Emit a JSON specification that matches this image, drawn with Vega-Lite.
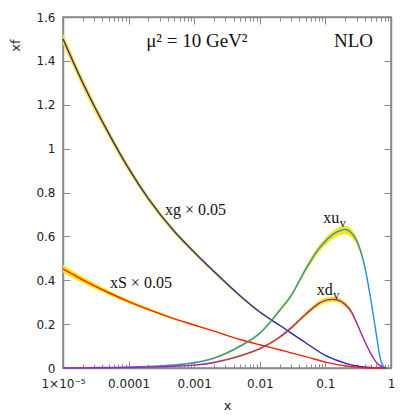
{
  "$schema": "https://vega.github.io/schema/vega-lite/v6.json",
  "autosize": {"type": "none"},
  "width": 328,
  "height": 351,
  "padding": {"left": 63, "top": 17, "right": 24, "bottom": 47},
  "background": "white",
  "config": {
    "view": {"stroke": "#888888", "strokeWidth": 1.5},
    "axis": {"domainColor": "#888888", "domainWidth": 1.5, "tickColor": "#888888", "tickWidth": 1, "grid": false, "labelFont": "DejaVu Sans", "labelFontSize": 12, "labelColor": "#222222", "titleFont": "DejaVu Sans", "titleFontSize": 13, "titleFontWeight": "normal", "titleColor": "#222222", "labelFlush": false, "labelOverlap": false}
  },
  "datasets": {
    "pdf": [
      {"s": "g", "x": 1e-5, "y": 1.50, "lo": 1.475, "hi": 1.525},
      {"s": "g", "x": 2e-5, "y": 1.30, "lo": 1.278, "hi": 1.322},
      {"s": "g", "x": 5e-5, "y": 1.068, "lo": 1.05, "hi": 1.086},
      {"s": "g", "x": 1e-4, "y": 0.91, "lo": 0.895, "hi": 0.925},
      {"s": "g", "x": 2e-4, "y": 0.772, "lo": 0.759, "hi": 0.785},
      {"s": "g", "x": 5e-4, "y": 0.622, "lo": 0.611, "hi": 0.633},
      {"s": "g", "x": 1e-3, "y": 0.528, "lo": 0.519, "hi": 0.537},
      {"s": "g", "x": 2e-3, "y": 0.44, "lo": 0.432, "hi": 0.448},
      {"s": "g", "x": 5e-3, "y": 0.329, "lo": 0.323, "hi": 0.335},
      {"s": "g", "x": 0.01, "y": 0.255, "lo": 0.25, "hi": 0.26},
      {"s": "g", "x": 0.02, "y": 0.195, "lo": 0.191, "hi": 0.199},
      {"s": "g", "x": 0.05, "y": 0.115, "lo": 0.112, "hi": 0.118},
      {"s": "g", "x": 0.1, "y": 0.057, "lo": 0.055, "hi": 0.059},
      {"s": "g", "x": 0.2, "y": 0.022, "lo": 0.021, "hi": 0.023},
      {"s": "g", "x": 0.3, "y": 0.009, "lo": 0.008, "hi": 0.01},
      {"s": "g", "x": 0.5, "y": 0.002, "lo": 0.002, "hi": 0.002},
      {"s": "g", "x": 0.85, "y": 0, "lo": 0, "hi": 0},

      {"s": "S", "x": 1e-5, "y": 0.452, "lo": 0.434, "hi": 0.47},
      {"s": "S", "x": 2e-5, "y": 0.402, "lo": 0.388, "hi": 0.416},
      {"s": "S", "x": 5e-5, "y": 0.343, "lo": 0.333, "hi": 0.353},
      {"s": "S", "x": 1e-4, "y": 0.303, "lo": 0.295, "hi": 0.311},
      {"s": "S", "x": 2e-4, "y": 0.267, "lo": 0.261, "hi": 0.273},
      {"s": "S", "x": 5e-4, "y": 0.224, "lo": 0.22, "hi": 0.228},
      {"s": "S", "x": 1e-3, "y": 0.196, "lo": 0.193, "hi": 0.199},
      {"s": "S", "x": 2e-3, "y": 0.168, "lo": 0.166, "hi": 0.17},
      {"s": "S", "x": 5e-3, "y": 0.13, "lo": 0.1285, "hi": 0.1315},
      {"s": "S", "x": 0.01, "y": 0.106, "lo": 0.105, "hi": 0.107},
      {"s": "S", "x": 0.02, "y": 0.083, "lo": 0.082, "hi": 0.084},
      {"s": "S", "x": 0.05, "y": 0.052, "lo": 0.0515, "hi": 0.0525},
      {"s": "S", "x": 0.1, "y": 0.027, "lo": 0.027, "hi": 0.027},
      {"s": "S", "x": 0.2, "y": 0.01, "lo": 0.01, "hi": 0.01},
      {"s": "S", "x": 0.3, "y": 0.004, "lo": 0.004, "hi": 0.004},
      {"s": "S", "x": 0.5, "y": 0, "lo": 0, "hi": 0},
      {"s": "S", "x": 0.85, "y": 0, "lo": 0, "hi": 0},

      {"s": "uv", "x": 1e-5, "y": 0.001, "lo": 0, "hi": 0.003},
      {"s": "uv", "x": 2e-5, "y": 0.0015, "lo": 0, "hi": 0.004},
      {"s": "uv", "x": 5e-5, "y": 0.0025, "lo": 0, "hi": 0.005},
      {"s": "uv", "x": 1e-4, "y": 0.004, "lo": 0.001, "hi": 0.007},
      {"s": "uv", "x": 2e-4, "y": 0.007, "lo": 0.004, "hi": 0.01},
      {"s": "uv", "x": 5e-4, "y": 0.014, "lo": 0.01, "hi": 0.018},
      {"s": "uv", "x": 1e-3, "y": 0.024, "lo": 0.02, "hi": 0.028},
      {"s": "uv", "x": 2e-3, "y": 0.045, "lo": 0.04, "hi": 0.05},
      {"s": "uv", "x": 5e-3, "y": 0.1, "lo": 0.094, "hi": 0.106},
      {"s": "uv", "x": 0.01, "y": 0.158, "lo": 0.151, "hi": 0.165},
      {"s": "uv", "x": 0.02, "y": 0.262, "lo": 0.253, "hi": 0.271},
      {"s": "uv", "x": 0.03, "y": 0.33, "lo": 0.32, "hi": 0.341},
      {"s": "uv", "x": 0.05, "y": 0.45, "lo": 0.436, "hi": 0.462},
      {"s": "uv", "x": 0.08, "y": 0.545, "lo": 0.528, "hi": 0.559},
      {"s": "uv", "x": 0.1, "y": 0.578, "lo": 0.559, "hi": 0.594},
      {"s": "uv", "x": 0.15, "y": 0.62, "lo": 0.599, "hi": 0.637},
      {"s": "uv", "x": 0.2, "y": 0.632, "lo": 0.61, "hi": 0.649},
      {"s": "uv", "x": 0.25, "y": 0.615, "lo": 0.594, "hi": 0.632},
      {"s": "uv", "x": 0.3, "y": 0.58, "lo": 0.561, "hi": 0.596},
      {"s": "uv", "x": 0.4, "y": 0.46, "lo": 0.445, "hi": 0.473},
      {"s": "uv", "x": 0.5, "y": 0.3, "lo": 0.29, "hi": 0.309},
      {"s": "uv", "x": 0.6, "y": 0.15, "lo": 0.145, "hi": 0.155},
      {"s": "uv", "x": 0.68, "y": 0.05, "lo": 0.048, "hi": 0.052},
      {"s": "uv", "x": 0.75, "y": 0.012, "lo": 0.011, "hi": 0.013},
      {"s": "uv", "x": 0.8, "y": 0.003, "lo": 0.003, "hi": 0.003},
      {"s": "uv", "x": 0.85, "y": 0, "lo": 0, "hi": 0},

      {"s": "dv", "x": 1e-5, "y": 0.0005, "lo": 0, "hi": 0.002},
      {"s": "dv", "x": 2e-5, "y": 0.0008, "lo": 0, "hi": 0.0025},
      {"s": "dv", "x": 5e-5, "y": 0.0013, "lo": 0, "hi": 0.003},
      {"s": "dv", "x": 1e-4, "y": 0.002, "lo": 0.0005, "hi": 0.0035},
      {"s": "dv", "x": 2e-4, "y": 0.004, "lo": 0.002, "hi": 0.006},
      {"s": "dv", "x": 5e-4, "y": 0.008, "lo": 0.006, "hi": 0.011},
      {"s": "dv", "x": 1e-3, "y": 0.013, "lo": 0.01, "hi": 0.016},
      {"s": "dv", "x": 2e-3, "y": 0.025, "lo": 0.021, "hi": 0.029},
      {"s": "dv", "x": 5e-3, "y": 0.055, "lo": 0.05, "hi": 0.06},
      {"s": "dv", "x": 0.01, "y": 0.088, "lo": 0.082, "hi": 0.094},
      {"s": "dv", "x": 0.02, "y": 0.14, "lo": 0.133, "hi": 0.147},
      {"s": "dv", "x": 0.03, "y": 0.183, "lo": 0.175, "hi": 0.191},
      {"s": "dv", "x": 0.05, "y": 0.245, "lo": 0.235, "hi": 0.255},
      {"s": "dv", "x": 0.08, "y": 0.295, "lo": 0.283, "hi": 0.307},
      {"s": "dv", "x": 0.1, "y": 0.308, "lo": 0.296, "hi": 0.32},
      {"s": "dv", "x": 0.13, "y": 0.313, "lo": 0.301, "hi": 0.325},
      {"s": "dv", "x": 0.15, "y": 0.311, "lo": 0.299, "hi": 0.323},
      {"s": "dv", "x": 0.2, "y": 0.29, "lo": 0.279, "hi": 0.301},
      {"s": "dv", "x": 0.25, "y": 0.255, "lo": 0.245, "hi": 0.265},
      {"s": "dv", "x": 0.3, "y": 0.205, "lo": 0.197, "hi": 0.213},
      {"s": "dv", "x": 0.4, "y": 0.12, "lo": 0.115, "hi": 0.125},
      {"s": "dv", "x": 0.5, "y": 0.062, "lo": 0.059, "hi": 0.065},
      {"s": "dv", "x": 0.6, "y": 0.025, "lo": 0.024, "hi": 0.026},
      {"s": "dv", "x": 0.7, "y": 0.007, "lo": 0.007, "hi": 0.007},
      {"s": "dv", "x": 0.8, "y": 0.001, "lo": 0.001, "hi": 0.001},
      {"s": "dv", "x": 0.85, "y": 0, "lo": 0, "hi": 0}
    ],
    "labels": [
      {"t": "xg × 0.05", "x": 0.00036, "y": 0.697},
      {"t": "xS × 0.05", "x": 0.000052, "y": 0.366},
      {"t": "xu", "x": 0.093, "y": 0.66},
      {"t": "xd", "x": 0.0736, "y": 0.333}
    ],
    "subs": [
      {"t": "v", "x": 0.093, "y": 0.66},
      {"t": "v", "x": 0.0736, "y": 0.333}
    ],
    "heads": [
      {"t": "μ² = 10 GeV²", "x": 0.000185, "y": 1.465},
      {"t": "NLO", "x": 0.135, "y": 1.465}
    ]
  },
  "resolve": {"axis": {"x": "independent", "y": "independent"}},
  "layer": [
    {
      "data": {"name": "pdf"},
      "mark": {"type": "area", "color": "#ffe600", "interpolate": "monotone", "opacity": 1},
      "encoding": {
        "x": {"field": "x", "type": "quantitative", "scale": {"type": "log", "domain": [0.00001, 1], "nice": false},
          "axis": {"orient": "bottom", "title": "x", "titleY": 37, "titleBaseline": "middle",
            "values": [0.00001, 0.00002, 0.00003, 0.00004, 0.00005, 0.00006, 0.00007, 0.00008, 0.00009, 0.0001, 0.0002, 0.0003, 0.0004, 0.0005, 0.0006, 0.0007, 0.0008, 0.0009, 0.001, 0.002, 0.003, 0.004, 0.005, 0.006, 0.007, 0.008, 0.009, 0.01, 0.02, 0.03, 0.04, 0.05, 0.06, 0.07, 0.08, 0.09, 0.1, 0.2, 0.3, 0.4, 0.5, 0.6, 0.7, 0.8, 0.9, 1],
            "labelExpr": "abs(log(datum.value)/LN10 - round(log(datum.value)/LN10)) > 0.001 ? '' : (datum.value < 0.00002 ? '1×10⁻⁵' : format(datum.value, '~g'))",
            "tickSize": {"condition": {"test": "abs(log(datum.value)/LN10 - round(log(datum.value)/LN10)) < 0.001", "value": -7}, "value": -4},
            "labelPadding": 17, "labelBaseline": "top"}},
        "y": {"field": "lo", "type": "quantitative", "scale": {"domain": [0, 1.6], "nice": false},
          "axis": {"orient": "left", "title": "xf", "titleX": -48, "titleY": 28, "titleAngle": -90, "titleAlign": "center", "titleBaseline": "middle",
            "values": [0, 0.2, 0.4, 0.6, 0.8, 1, 1.2, 1.4, 1.6], "format": "~g", "tickSize": -7, "labelPadding": 15}},
        "y2": {"field": "hi"},
        "detail": {"field": "s"}
      }
    },
    {
      "data": {"name": "pdf"},
      "mark": {"type": "line", "interpolate": "monotone", "strokeWidth": 1.4},
      "encoding": {
        "x": {"field": "x", "type": "quantitative", "axis": null},
        "y": {"field": "y", "type": "quantitative", "axis": null},
        "color": {"field": "s", "type": "nominal", "legend": null,
          "scale": {"domain": ["S", "uv", "dv", "g"], "range": ["#ff2000", "#1e8ff0", "#a020c8", "#2424d8"]}}
      }
    },
    {
      "data": {"name": "labels"},
      "mark": {"type": "text", "font": "Liberation Serif", "fontSize": 16, "align": "left", "baseline": "alphabetic", "color": "#111111"},
      "encoding": {
        "x": {"field": "x", "type": "quantitative", "axis": null},
        "y": {"field": "y", "type": "quantitative", "axis": null},
        "text": {"field": "t"}
      }
    },
    {
      "data": {"name": "subs"},
      "mark": {"type": "text", "font": "Liberation Serif", "fontSize": 12, "align": "left", "baseline": "alphabetic", "dx": 16.5, "dy": 4, "color": "#111111"},
      "encoding": {
        "x": {"field": "x", "type": "quantitative", "axis": null},
        "y": {"field": "y", "type": "quantitative", "axis": null},
        "text": {"field": "t"}
      }
    },
    {
      "data": {"name": "heads"},
      "mark": {"type": "text", "font": "Liberation Serif", "fontSize": 19, "align": "left", "baseline": "alphabetic", "color": "#111111"},
      "encoding": {
        "x": {"field": "x", "type": "quantitative",
          "axis": {"orient": "top", "title": null, "labels": false,
            "values": [0.00001, 0.00002, 0.00003, 0.00004, 0.00005, 0.00006, 0.00007, 0.00008, 0.00009, 0.0001, 0.0002, 0.0003, 0.0004, 0.0005, 0.0006, 0.0007, 0.0008, 0.0009, 0.001, 0.002, 0.003, 0.004, 0.005, 0.006, 0.007, 0.008, 0.009, 0.01, 0.02, 0.03, 0.04, 0.05, 0.06, 0.07, 0.08, 0.09, 0.1, 0.2, 0.3, 0.4, 0.5, 0.6, 0.7, 0.8, 0.9, 1],
            "tickSize": {"condition": {"test": "abs(log(datum.value)/LN10 - round(log(datum.value)/LN10)) < 0.001", "value": -7}, "value": -4}}},
        "y": {"field": "y", "type": "quantitative",
          "axis": {"orient": "right", "title": null, "labels": false, "values": [0, 0.2, 0.4, 0.6, 0.8, 1, 1.2, 1.4, 1.6], "tickSize": -7}},
        "text": {"field": "t"}
      }
    }
  ]
}
